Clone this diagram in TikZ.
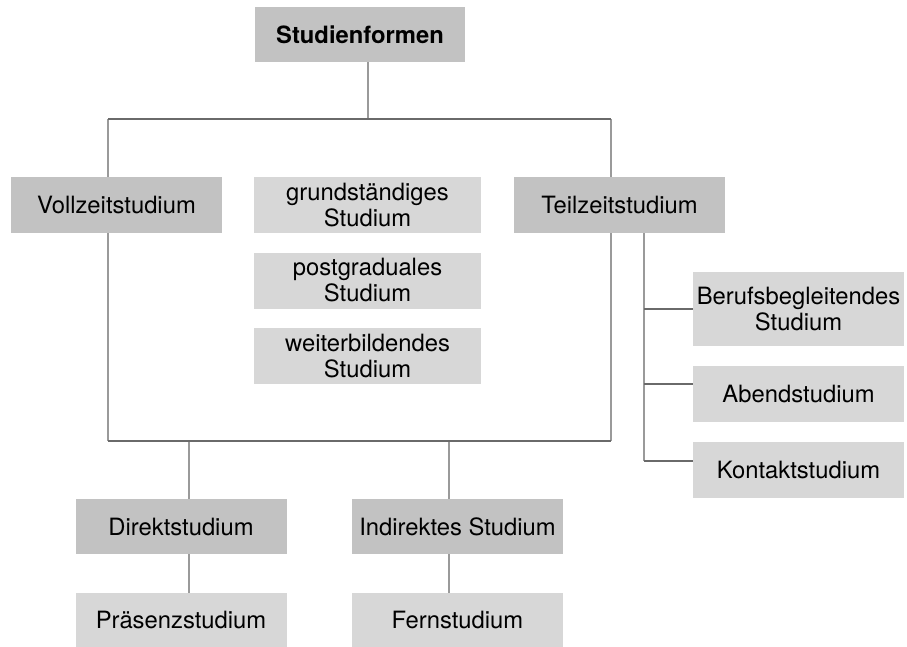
\documentclass[tikz,border=0pt]{standalone}
\usepackage{fontspec}
\setmainfont{TeX Gyre Heros}
\definecolor{boxdark}{HTML}{C2C2C2}
\definecolor{boxlight}{HTML}{D7D7D7}
\definecolor{linev}{HTML}{9A9A9A}
\definecolor{lineh}{HTML}{6A6A6A}
\begin{document}
\begin{tikzpicture}[x=1pt,y=-1pt,
  box/.style={inner sep=0pt, minimum width=211pt, minimum height=56pt,
    align=center, font=\fontsize{23.8}{26}\selectfont},
  dark/.style={box, fill=boxdark},
  light/.style={box, fill=boxlight},
  vl/.style={draw=linev, line width=1.5pt},
  hl/.style={draw=lineh, line width=1.3pt}]
\useasboundingbox (0,0) rectangle (907,646);

% boxes
\node[dark, minimum width=210pt, minimum height=55pt,
  font=\fontsize{23.8}{26}\selectfont\bfseries] (sf) at (360,34.5) {Studienformen};
\node[dark] (voll) at (116.5,205) {Vollzeitstudium};
\node[light, minimum width=227pt] (grund) at (367.5,205) {grundständiges\\Studium};
\node[light, minimum width=227pt] (post) at (367.5,280.5) {postgraduales\\Studium};
\node[light, minimum width=227pt] (weiter) at (367.5,356) {weiterbildendes\\Studium};
\node[dark] (teil) at (619.5,205) {Teilzeitstudium};
\node[light, minimum height=74pt] (beruf) at (798.5,309) {Berufsbegleitendes\\Studium};
\node[light] (abend) at (798.5,394) {Abendstudium};
\node[light] (kontakt) at (798.5,470) {Kontaktstudium};
\node[dark, minimum height=55pt] (direkt) at (181,526.5) {Direktstudium};
\node[light, minimum height=54pt] (praes) at (181,620) {Präsenzstudium};
\node[dark, minimum height=55pt] (indirekt) at (457.5,526.5) {Indirektes Studium};
\node[light, minimum height=54pt] (fern) at (457.5,620) {Fernstudium};

% junction points
\coordinate (jt) at (368,119);
\coordinate (jl) at (108,119);
\coordinate (jr) at (611,119);
\coordinate (bl) at (108,441);
\coordinate (br) at (611,441);
\coordinate (bd) at (189,441);
\coordinate (bi) at (449,441);
\coordinate (tx) at (644,0);
\coordinate (k1) at (644,309);
\coordinate (k2) at (644,384);
\coordinate (k3) at (644,461);

% connectors
\draw[vl] (sf.south -| jt) -- (jt);
\draw[vl] (jl) -- (voll.north -| jl);
\draw[vl] (voll.south -| jl) -- (bl);
\draw[vl] (jr) -- (teil.north -| jr);
\draw[vl] (teil.south -| jr) -- (br);
\draw[vl] (bd) -- (direkt.north -| bd);
\draw[vl] (direkt.south -| bd) -- (praes.north -| bd);
\draw[vl] (bi) -- (indirekt.north -| bi);
\draw[vl] (indirekt.south -| bi) -- (fern.north -| bi);
\draw[vl] (teil.south -| tx) -- (k3);
\draw[hl] (jl) -- (jr);
\draw[hl] (bl) -- (br);
\draw[hl] (k1) -- (k1 -| beruf.west);
\draw[hl] (k2) -- (k2 -| abend.west);
\draw[hl] (k3) -- (k3 -| kontakt.west);
\end{tikzpicture}
\end{document}
